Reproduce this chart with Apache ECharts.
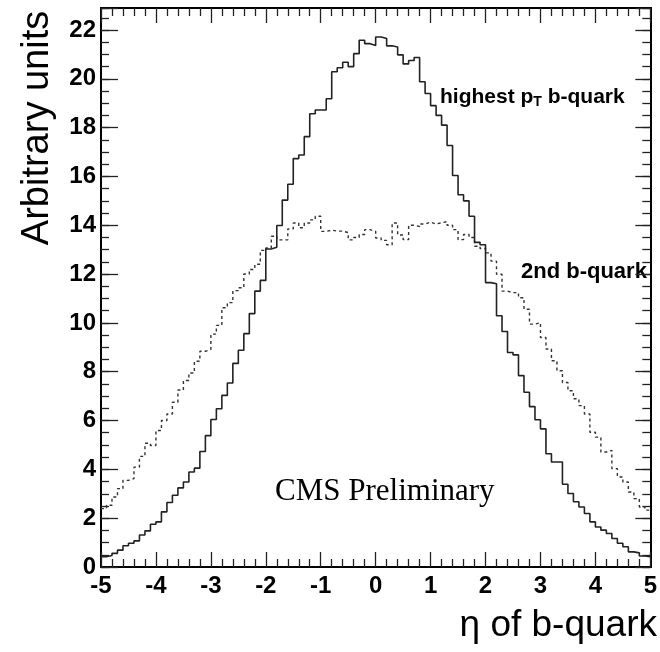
<!DOCTYPE html>
<html>
<head>
<meta charset="utf-8">
<script src="https://cdn.jsdelivr.net/npm/echarts@6/dist/echarts.min.js"></script>
<style>html,body{margin:0;padding:0;background:#fff}#c{width:660px;height:652px}</style>
</head>
<body>
<div id="c"></div>
<script>
// eta range and binning of the histograms
const etaMin = -5, etaMax = 5, nBins = 100;
// x tick labels
const xTicks = [-5, -4, -3, -2, -1, 0, 1, 2, 3, 4, 5];
// y tick labels
const yTicks = [0, 2, 4, 6, 8, 10, 12, 14, 16, 18, 20, 22];

// highest pT b-quark (solid)
const leadingB = [
  0.42, 0.47, 0.56, 0.69, 0.87, 0.97, 1.07, 1.31, 1.48, 1.75,
  1.85, 2.26, 2.64, 2.94, 3.24, 3.48, 3.89, 4.05, 4.73, 5.38,
  6.04, 6.48, 7.03, 7.54, 8.34, 8.88, 9.56, 10.38, 11.30, 11.74,
  13.03, 13.10, 13.99, 15.03, 15.68, 16.73, 16.88, 17.63, 18.57, 18.72,
  18.72, 19.18, 20.29, 20.45, 20.68, 20.50, 21.03, 21.58, 21.44, 21.36,
  21.71, 21.65, 21.35, 21.30, 20.98, 20.61, 20.75, 20.87, 19.88, 19.40,
  18.90, 18.50, 18.10, 17.27, 16.04, 15.25, 15.00, 14.37, 13.30, 13.20,
  11.65, 11.60, 10.29, 9.65, 8.79, 8.69, 7.84, 7.16, 6.57, 6.03,
  5.66, 4.64, 4.30, 4.30, 3.39, 3.01, 2.67, 2.46, 2.19, 1.85,
  1.64, 1.51, 1.37, 1.17, 0.97, 0.83, 0.62, 0.58, 0.45, 0.42
];

// 2nd b-quark (dotted)
const secondB = [
  2.39, 2.53, 2.87, 3.21, 3.55, 3.62, 4.09, 4.53, 5.07, 4.98,
  5.59, 6.00, 6.27, 6.75, 7.25, 7.64, 7.95, 8.43, 8.84, 8.91,
  9.54, 9.90, 10.62, 10.83, 11.32, 11.44, 12.00, 12.19, 12.40, 12.97,
  13.07, 13.55, 13.40, 13.40, 13.85, 14.09, 13.90, 14.09, 14.22, 14.37,
  13.75, 13.80, 13.76, 13.76, 13.70, 13.40, 13.50, 13.62, 13.82, 13.75,
  13.48, 13.38, 13.20, 14.09, 13.60, 13.41, 14.00, 13.95, 14.05, 14.13,
  14.05, 14.10, 14.15, 14.00, 13.82, 13.41, 13.62, 13.50, 13.14, 13.05,
  12.87, 12.53, 11.99, 11.30, 11.24, 11.24, 11.03, 10.56, 9.95, 10.01,
  9.40, 8.93, 8.45, 8.04, 7.56, 7.22, 6.89, 6.61, 6.27, 5.52,
  5.32, 4.71, 4.78, 4.03, 3.69, 3.48, 3.07, 2.80, 2.46, 2.33
];

const binW = (etaMax - etaMin) / nBins;
function histData(vals) {
  const d = vals.map((v, i) => [+(etaMin + i * binW).toFixed(2), v]);
  d.push([etaMax, vals[vals.length - 1]]);
  return d;
}

const FONT = '"Liberation Sans", Arial, Helvetica, sans-serif';
const frame = { show: true, onZero: false, lineStyle: { color: '#000', width: 2 } };
const tickStyle = { color: '#222', width: 1.3 };
const yMax = 22.9;

const chart = echarts.init(document.getElementById('c'), null, { renderer: 'canvas' });
chart.setOption({
  animation: false,
  backgroundColor: '#fff',
  grid: { left: 101, right: 2, top: 8, bottom: 85 },
  xAxis: [
    {
      type: 'value', min: etaMin, max: etaMax, interval: 1, position: 'bottom',
      axisLine: frame,
      axisTick: { show: true, inside: true, length: 15, lineStyle: tickStyle },
      minorTick: { show: true, splitNumber: 5, length: 8, lineStyle: tickStyle },
      splitLine: { show: false },
      axisLabel: {
        margin: 7, color: '#000', fontFamily: FONT, fontWeight: 'bold', fontSize: 24,
        formatter: v => (xTicks.indexOf(Math.round(v)) >= 0 ? String(Math.round(v)) : '')
      }
    },
    {
      type: 'value', min: etaMin, max: etaMax, interval: 1, position: 'top',
      axisLine: frame,
      axisTick: { show: true, inside: true, length: 15, lineStyle: tickStyle },
      minorTick: { show: true, splitNumber: 5, length: 8, lineStyle: tickStyle },
      splitLine: { show: false },
      axisLabel: { show: false }
    }
  ],
  yAxis: [
    {
      type: 'value', min: 0, max: yMax, interval: 2, position: 'left',
      axisLine: frame,
      axisTick: { show: true, inside: true, length: 17, lineStyle: tickStyle },
      splitLine: { show: false },
      axisLabel: {
        margin: 5, color: '#000', fontFamily: FONT, fontWeight: 'bold', fontSize: 24,
        formatter: v => (yTicks.indexOf(v) >= 0 ? String(v) : '')
      }
    },
    {
      type: 'value', min: 0, max: yMax, interval: 0.5, position: 'left',
      axisLine: frame,
      axisTick: { show: true, inside: true, length: 8, lineStyle: tickStyle },
      splitLine: { show: false }, axisLabel: { show: false }
    },
    {
      type: 'value', min: 0, max: yMax, interval: 2, position: 'right',
      axisLine: frame,
      axisTick: { show: true, inside: true, length: 15, lineStyle: tickStyle },
      splitLine: { show: false }, axisLabel: { show: false }
    },
    {
      type: 'value', min: 0, max: yMax, interval: 0.5, position: 'right',
      axisLine: frame,
      axisTick: { show: true, inside: true, length: 8, lineStyle: tickStyle },
      splitLine: { show: false }, axisLabel: { show: false }
    }
  ],
  series: [
    {
      name: 'highest pT b-quark', type: 'line', step: 'end', symbol: 'none',
      xAxisIndex: 0, yAxisIndex: 0,
      lineStyle: { color: '#222', width: 1.6 },
      data: histData(leadingB), z: 3
    },
    {
      name: '2nd b-quark', type: 'line', step: 'end', symbol: 'none',
      xAxisIndex: 0, yAxisIndex: 0,
      lineStyle: { color: '#333', width: 1.4, type: [3, 3] },
      data: histData(secondB), z: 2
    }
  ],
  graphic: [
    {
      type: 'text', x: 38, y: 128, rotation: Math.PI / 2,
      style: { text: 'Arbitrary units', font: '38px ' + FONT, fill: '#000', align: 'center', verticalAlign: 'middle' }
    },
    {
      type: 'text', x: 657, y: 626,
      style: { text: 'η of b-quark', font: '37px ' + FONT, fill: '#000', align: 'right', verticalAlign: 'middle' }
    },
    {
      type: 'text', x: 440, y: 97,
      style: {
        text: '{a|highest p}{s|T}{a| b-quark}', verticalAlign: 'middle', align: 'left',
        rich: {
          a: { font: 'bold 21px ' + FONT, fill: '#000' },
          s: { font: 'bold 14px ' + FONT, fill: '#000', padding: [10, 0, 0, 0] }
        }
      }
    },
    {
      type: 'text', x: 521, y: 272,
      style: { text: '2nd b-quark', font: 'bold 22px ' + FONT, fill: '#000', align: 'left', verticalAlign: 'middle' }
    },
    {
      type: 'text', x: 275, y: 492,
      style: { text: 'CMS Preliminary', font: '31px "Liberation Serif", "Times New Roman", serif', fill: '#000', align: 'left', verticalAlign: 'middle' }
    }
  ]
});
</script>
</body>
</html>
